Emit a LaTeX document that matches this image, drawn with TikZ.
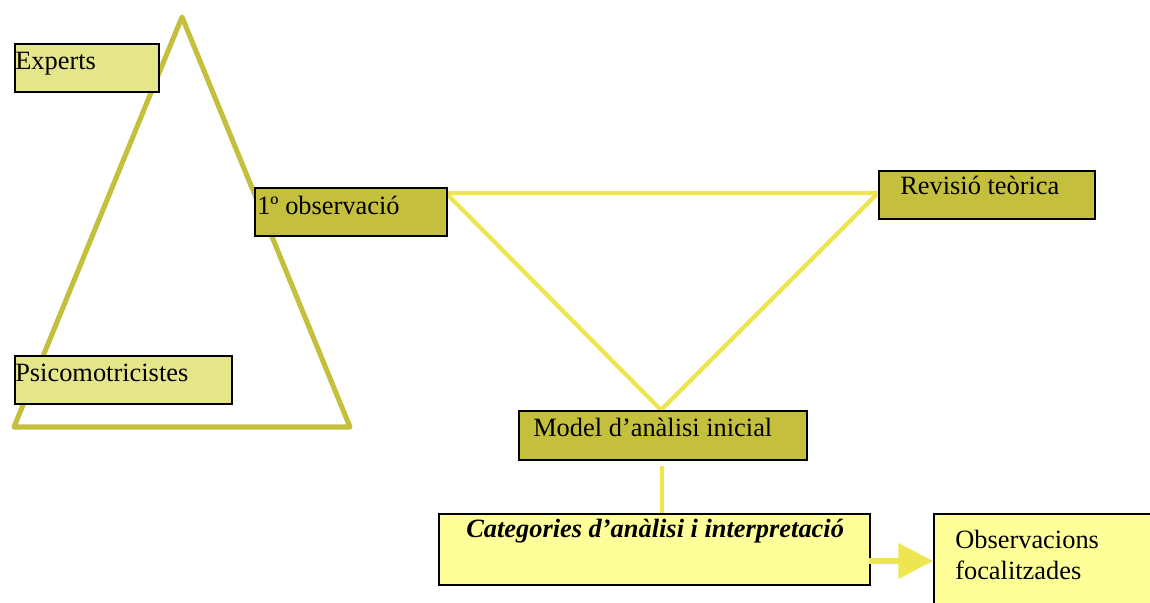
\documentclass[tikz,border=0pt]{standalone}
\usepackage{fontspec}
\setmainfont{Liberation Serif}
\usetikzlibrary{arrows.meta}
\definecolor{olivebox}{HTML}{C4C03E}
\definecolor{lightkhaki}{HTML}{E5E58A}
\definecolor{paleyellow}{HTML}{FFFF99}
\definecolor{lineyellow}{HTML}{EDE650}
\tikzset{
  boxshape/.style={draw=black, line width=1.2pt, minimum width=#1, inner sep=0pt},
  olivefill/.style={fill=olivebox},
  khakifill/.style={fill=lightkhaki},
  palefill/.style={fill=paleyellow},
  lbl/.style={anchor=base west, inner sep=0pt, font=\fontsize{19.8}{23}\selectfont},
  oliveline/.style={draw=olivebox, line width=3.8pt, line join=round},
  yellowline/.style={draw=lineyellow, line width=3.2pt, line join=round}
}
\begin{document}
\begin{tikzpicture}[x=0.75pt, y=-0.75pt]
\useasboundingbox (0,0) rectangle (1150,603);
% big olive triangle
\coordinate (apex) at (182,17);
\coordinate (bl) at (14,427);
\coordinate (br) at (350,427);
\draw[oliveline] (apex) -- (bl) -- (br) -- cycle;

% yellow triangle
\coordinate (ya) at (446,193);
\coordinate (yb) at (878,193);
\coordinate (yc) at (661,410);

% boxes
\node[boxshape, khakifill, minimum width=108pt, minimum height=36pt, anchor=north west] (experts) at (14,43) {};
\node[lbl] (expertsT) at (15,69) {Experts};

\node[boxshape, khakifill, minimum width=162.75pt, minimum height=36pt, anchor=north west] (psico) at (14,355) {};
\node[lbl] (psicoT) at (15,381) {Psicomotricistes};

\draw[yellowline] (ya) -- (yb) -- (yc) -- cycle;

\node[boxshape, olivefill, minimum width=144pt, minimum height=36pt, anchor=north west] (obs) at (254,187) {};
\node[lbl] (obsT) at (257,214) {1º observació};

\node[boxshape, olivefill, minimum width=162pt, minimum height=36pt, anchor=north west] (rev) at (878,170) {};
\node[lbl] (revT) at (900,194) {Revisió teòrica};

\node[boxshape, olivefill, minimum width=216pt, minimum height=36.75pt, anchor=north west] (model) at (518,410) {};
\node[lbl] (modelT) at (533,436) {Model d’anàlisi inicial};

\node[boxshape, palefill, minimum width=323.25pt, minimum height=53.25pt, anchor=north west] (cat) at (438,513) {};
\node[lbl, font=\fontsize{19.8}{23}\selectfont\bfseries\itshape] (catT) at (466,537) {Categories d’anàlisi i interpretació};

\node[boxshape, palefill, minimum width=166pt, minimum height=75pt, anchor=north west] (foc) at (933,513) {};
\node[lbl] (focT1) at (955,548) {Observacions};
\node[lbl] (focT2) at (955,579) {focalitzades};

% connectors
\coordinate (vtop) at (662,466);
\draw[draw=lineyellow, line width=3.5pt] (vtop) -- (cat.north -| vtop);
\coordinate (arrs) at (869,561);
\draw[draw=lineyellow, line width=4pt, -{Triangle[length=26pt, width=26pt]}] (arrs) -- (arrs -| foc.west);
\end{tikzpicture}
\end{document}
